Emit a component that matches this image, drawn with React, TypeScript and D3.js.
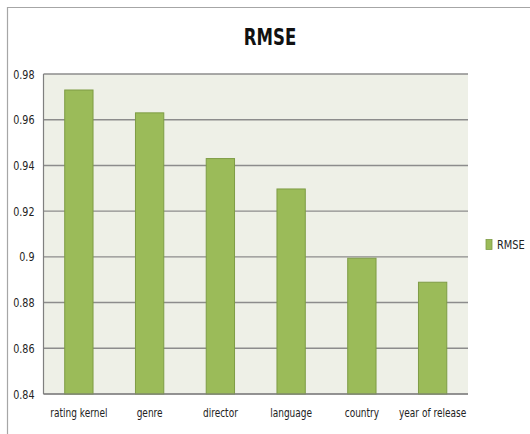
import React from "react";
import * as d3 from "d3";

const categories = ["rating kernel", "genre", "director", "language", "country", "year of release"];
const rmseValues = [0.973, 0.963, 0.943, 0.9297, 0.8994, 0.8889];
const yTicks = [0.84, 0.86, 0.88, 0.9, 0.92, 0.94, 0.96, 0.98];
const yTickLabels = ["0.84", "0.86", "0.88", "0.9", "0.92", "0.94", "0.96", "0.98"];
const seriesName = "RMSE";

const W = 530;
const H = 434;
const plot = { left: 43.5, right: 468, top: 74, bottom: 394 };
const font = "'DejaVu Sans', sans-serif";

function NarrowText(props: { x: number; y: number; sx: number; anchor?: string; size: number; bold?: boolean; children: React.ReactNode }) {
  return (
    <text
      transform={`translate(${props.x},${props.y}) scale(${props.sx},1)`}
      textAnchor={props.anchor || "start"}
      fontFamily={font}
      fontSize={props.size}
      fontWeight={props.bold ? "bold" : "normal"}
      fill={props.bold ? "#111" : "#222"}
    >
      {props.children}
    </text>
  );
}

export default function App() {
  const x = d3.scaleBand<string>().domain(categories).range([plot.left, plot.right]).paddingInner(0.6).paddingOuter(0.3);
  const y = d3.scaleLinear().domain([0.84, 0.98]).range([plot.bottom, plot.top]);

  return (
    <svg width={W} height={H} style={{ position: "absolute", left: 0, top: 0, display: "block" }}>
      <rect x={0} y={0} width={W} height={H} fill="#ffffff" />
      <line x1={7} y1={7.5} x2={W} y2={7.5} stroke="#a6a6a6" strokeWidth={1.2} />
      <line x1={7.5} y1={7} x2={7.5} y2={H} stroke="#a6a6a6" strokeWidth={1.2} />
      <NarrowText x={270} y={45} sx={0.72} anchor="middle" size={23} bold>
        RMSE
      </NarrowText>
      <rect x={plot.left} y={plot.top} width={plot.right - plot.left} height={plot.bottom - plot.top} fill="#eef0e7" />
      {yTicks.map((t, i) => (
        <g key={t}>
          <line x1={plot.left} x2={plot.right} y1={y(t)} y2={y(t)} stroke="#8c8c8c" strokeWidth={1.4} />
          <NarrowText x={34.5} y={y(t) + 4.5} sx={0.8} anchor="end" size={12}>
            {yTickLabels[i]}
          </NarrowText>
        </g>
      ))}
      {categories.map((c, i) => (
        <rect
          key={c}
          x={x(c)}
          y={y(rmseValues[i])}
          width={x.bandwidth()}
          height={y(0.84) - y(rmseValues[i])}
          fill="#9bbb59"
          stroke="#7e9c45"
          strokeWidth={1}
        />
      ))}
      <line x1={plot.left} x2={plot.left} y1={plot.top} y2={plot.bottom} stroke="#7f7f7f" strokeWidth={1.2} />
      <line x1={plot.left} x2={plot.right} y1={plot.bottom} y2={plot.bottom} stroke="#7f7f7f" strokeWidth={1.2} />
      {categories.map((c) => (
        <NarrowText key={c} x={(x(c) as number) + x.bandwidth() / 2} y={417} sx={0.75} anchor="middle" size={12}>
          {c}
        </NarrowText>
      ))}
      <rect x={486} y={239.5} width={6} height={10} fill="#9bbb59" stroke="#7e9c45" strokeWidth={0.8} />
      <NarrowText x={497} y={248.5} sx={0.82} size={12}>
        {seriesName}
      </NarrowText>
    </svg>
  );
}
